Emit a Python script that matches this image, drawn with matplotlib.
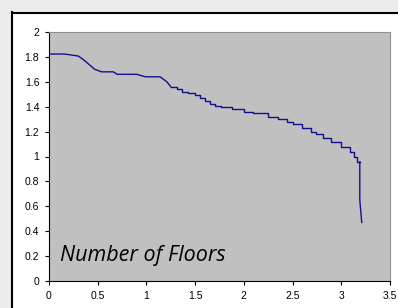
import matplotlib.pyplot as plt
from matplotlib.lines import Line2D
from matplotlib.patches import Rectangle

# smooth start of the curve
smoothX = [0.0, 0.16, 0.30, 0.35, 0.47, 0.54, 0.66, 0.70, 0.90, 0.99, 1.14, 1.21, 1.25]
smoothY = [1.823, 1.823, 1.807, 1.78, 1.70, 1.68, 1.68, 1.66, 1.66, 1.64, 1.64, 1.60, 1.56]

# stepped part (level starts at x)
stepX = [1.25, 1.31, 1.37, 1.43, 1.50, 1.55, 1.60, 1.65, 1.70, 1.77, 1.88, 2.00, 2.09,
         2.25, 2.35, 2.44, 2.50, 2.60, 2.69, 2.74, 2.81, 2.89, 3.00, 3.09, 3.13, 3.16, 3.19]
stepY = [1.56, 1.54, 1.52, 1.51, 1.49, 1.47, 1.445, 1.42, 1.405, 1.40, 1.38, 1.357, 1.35,
         1.317, 1.30, 1.277, 1.26, 1.23, 1.197, 1.18, 1.149, 1.116, 1.076, 1.036, 0.996, 0.956, 0.956]

# tail
tailX = [3.19, 3.19, 3.21]
tailY = [0.956, 0.65, 0.47]

xticks = [0, 0.5, 1, 1.5, 2, 2.5, 3, 3.5]
xlabels = ["0", "0.5", "1", "1.5", "2", "2.5", "3", "3.5"]
yticks = [0, 0.2, 0.4, 0.6, 0.8, 1, 1.2, 1.4, 1.6, 1.8, 2]
ylabels = ["0", "0.2", "0.4", "0.6", "0.8", "1", "1.2", "1.4", "1.6", "1.8", "2"]

fig = plt.figure(figsize=(3.98, 3.08), dpi=100)
fig.patch.set_facecolor("#ececec")
fig.patches.append(Rectangle((12 / 398, 0), 1, 1 - 12 / 308, transform=fig.transFigure,
                             facecolor="white", edgecolor="none", zorder=-2))
fig.lines.append(Line2D([12.5 / 398, 12.5 / 398], [0, 1 - 12 / 308], transform=fig.transFigure,
                        color="black", lw=1.5, zorder=-1))
fig.lines.append(Line2D([12.5 / 398, 1], [1 - 12.5 / 308, 1 - 12.5 / 308], transform=fig.transFigure,
                        color="black", lw=1.5, zorder=-1))

ax = fig.add_axes([49 / 398, 27 / 308, 341 / 398, 249 / 308])
ax.set_zorder(2)
ax.set_facecolor("#c0c0c0")
ax.plot(smoothX, smoothY, color="#10108c", lw=1)
ax.plot(stepX, stepY, color="#10108c", lw=1, drawstyle="steps-post")
ax.plot(tailX, tailY, color="#10108c", lw=1)

ax.set_xlim(0, 3.5)
ax.set_ylim(0, 2)
ax.set_xticks(xticks)
ax.set_xticklabels(xlabels)
ax.set_yticks(yticks)
ax.set_yticklabels(ylabels)
ax.tick_params(direction="out", length=3, width=0.8, labelsize=7.5, pad=4)
for lab in ax.get_xticklabels() + ax.get_yticklabels():
    lab.set_fontfamily("Liberation Sans")
ax.spines["left"].set_color("black")
ax.spines["bottom"].set_color("black")
ax.spines["top"].set_color("#909090")
ax.spines["right"].set_color("#909090")

ax.text(0.11, 0.16, "Number of Floors", fontsize=15.5, style="italic",
        family="Open Sans", color="black")

plt.savefig("out.png", dpi=100, facecolor=fig.get_facecolor())
